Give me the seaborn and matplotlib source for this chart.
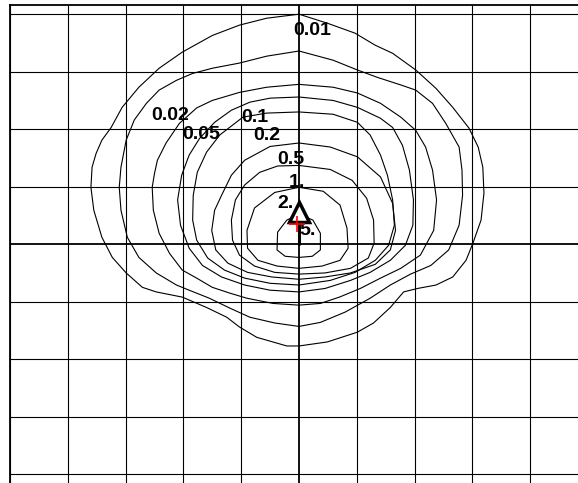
import matplotlib
matplotlib.use("Agg")
import matplotlib.pyplot as plt
import seaborn as sns
import pandas as pd

# concentration isolines around the source, grid units (1 cell = 1 km)
levels = ["0.01", "0.02", "0.05", "0.1", "0.2", "0.5", "1.", "2.", "5."]

c_001 = [(0, 4.0), (0.50, 3.84), (0.97, 3.67), (1.32, 3.46), (1.62, 3.32), (2.02, 3.03),
         (2.37, 2.71), (2.66, 2.38), (2.94, 2.02), (3.10, 1.69), (3.18, 1.34), (3.20, 0.89),
         (3.15, 0.42), (3.01, 0.02), (2.89, -0.28), (2.66, -0.57), (2.37, -0.71), (2.05, -0.77),
         (1.81, -0.83), (1.58, -1.10), (1.29, -1.37), (1.01, -1.53), (0.49, -1.70), (0, -1.77),
         (-0.21, -1.77), (-0.73, -1.62), (-1.03, -1.44), (-1.25, -1.27), (-1.60, -1.10),
         (-2.02, -0.92), (-2.47, -0.83), (-2.71, -0.75), (-2.99, -0.50), (-3.23, -0.23),
         (-3.41, 0.12), (-3.55, 0.59), (-3.60, 0.99), (-3.58, 1.34), (-3.51, 1.58), (-3.41, 1.81),
         (-3.25, 2.03), (-3.06, 2.38), (-2.77, 2.73), (-2.42, 3.06), (-2.02, 3.34), (-1.50, 3.63),
         (-1.03, 3.81), (-0.56, 3.93)]

c_002 = [(0, 3.36), (0.59, 3.20), (1.01, 3.03), (1.36, 2.90), (1.76, 2.77), (2.02, 2.68),
         (2.31, 2.45), (2.54, 2.10), (2.77, 1.69), (2.82, 1.29), (2.83, 0.85), (2.77, 0.33),
         (2.59, -0.10), (2.28, -0.37), (1.93, -0.52), (1.58, -0.71), (1.23, -0.94), (0.80, -1.18),
         (0.37, -1.36), (0, -1.43), (-0.42, -1.37), (-0.85, -1.27), (-1.20, -1.11), (-1.55, -0.94),
         (-1.90, -0.80), (-2.12, -0.71), (-2.47, -0.50), (-2.77, -0.23), (-2.97, 0.12),
         (-3.08, 0.59), (-3.11, 0.99), (-3.08, 1.34), (-2.99, 1.81), (-2.85, 2.16), (-2.64, 2.45),
         (-2.42, 2.68), (-2.12, 2.85), (-1.84, 2.97), (-1.50, 3.06), (-1.03, 3.15), (-0.56, 3.27)]

c_005 = [(0, 2.78), (0.59, 2.73), (1.01, 2.63), (1.41, 2.45), (1.76, 2.21), (2.02, 1.98),
         (2.19, 1.69), (2.31, 1.29), (2.38, 0.77), (2.33, 0.24), (2.10, -0.19), (1.76, -0.42),
         (1.41, -0.59), (1.06, -0.77), (0.70, -0.92), (0.37, -1.03), (0, -1.06), (-0.45, -1.03),
         (-0.90, -0.94), (-1.20, -0.85), (-1.50, -0.75), (-1.77, -0.59), (-2.02, -0.45),
         (-2.24, -0.16), (-2.42, 0.19), (-2.52, 0.59), (-2.54, 0.99), (-2.50, 1.23), (-2.45, 1.46),
         (-2.30, 1.76), (-2.07, 2.10), (-1.77, 2.37), (-1.50, 2.50), (-1.03, 2.64), (-0.56, 2.73)]

c_01 = [(0, 2.56), (0.59, 2.50), (1.01, 2.38), (1.41, 2.19), (1.62, 2.03), (1.79, 1.72),
        (1.91, 1.29), (1.98, 0.77), (1.97, 0.33), (1.84, -0.02), (1.58, -0.28), (1.23, -0.49),
        (0.89, -0.63), (0.45, -0.77), (0, -0.83), (-0.50, -0.80), (-0.94, -0.71), (-1.34, -0.57),
        (-1.67, -0.37), (-1.90, -0.07), (-2.05, 0.33), (-2.10, 0.77), (-2.03, 1.20), (-1.90, 1.55),
        (-1.72, 1.84), (-1.46, 2.12), (-1.17, 2.33), (-0.85, 2.47), (-0.50, 2.54)]

c_02 = [(0, 2.30), (0.59, 2.26), (1.01, 2.12), (1.23, 1.90), (1.41, 1.55), (1.53, 1.20),
        (1.62, 0.77), (1.65, 0.33), (1.55, -0.02), (1.32, -0.28), (0.97, -0.49), (0.54, -0.63),
        (0, -0.71), (-0.50, -0.68), (-0.94, -0.59), (-1.29, -0.45), (-1.58, -0.24), (-1.77, 0.07),
        (-1.84, 0.42), (-1.83, 0.85), (-1.76, 1.25), (-1.60, 1.60), (-1.37, 1.90), (-0.97, 2.21),
        (-0.56, 2.28)]

c_05 = [(0, 1.76), (0.54, 1.69), (1.01, 1.52), (1.41, 1.17), (1.62, 0.71), (1.67, 0.24),
        (1.58, -0.10), (1.32, -0.35), (0.89, -0.50), (0.45, -0.57), (0, -0.61), (-0.47, -0.57),
        (-0.89, -0.49), (-1.23, -0.33), (-1.44, -0.10), (-1.51, 0.24), (-1.46, 0.59),
        (-1.34, 0.85), (-1.17, 1.20), (-0.94, 1.46), (-0.50, 1.70)]

c_1 = [(0, 1.37), (0.54, 1.30), (0.92, 1.11), (1.17, 0.80), (1.29, 0.42), (1.30, 0.02),
       (1.20, -0.24), (0.89, -0.42), (0.45, -0.50), (0, -0.52), (-0.42, -0.49), (-0.77, -0.38),
       (-1.03, -0.19), (-1.15, 0.07), (-1.17, 0.42), (-1.10, 0.77), (-0.94, 1.03), (-0.68, 1.25),
       (-0.37, 1.36)]

c_2 = [(0, 0.99), (0.42, 0.92), (0.71, 0.68), (0.83, 0.28), (0.85, -0.07), (0.71, -0.28),
       (0.40, -0.38), (0, -0.42), (-0.38, -0.38), (-0.71, -0.28), (-0.89, -0.07), (-0.90, 0.24),
       (-0.77, 0.63), (-0.42, 0.90)]

c_5 = [(0, 0.52), (0.24, 0.42), (0.37, 0.19), (0.37, -0.10), (0.23, -0.21), (0, -0.23),
       (-0.24, -0.21), (-0.38, -0.10), (-0.37, 0.21), (-0.21, 0.42)]

contours = [c_001, c_002, c_005, c_01, c_02, c_05, c_1, c_2, c_5]

# label anchor (x centre, y baseline)
label_x = [0.23, -2.23, -1.69, -0.77, -0.55, -0.14, -0.04, -0.23, 0.15]
label_y = [3.63, 2.16, 1.83, 2.12, 1.82, 1.39, 1.00, 0.63, 0.16]

source_xy = (0.0, 0.56)
receptor_xy = (-0.04, 0.36)

grid_x = list(range(-5, 6))
grid_y = list(range(-4, 5))

rows = []
for lev, pts in zip(levels, contours):
    loop = pts + [pts[0]]
    for i, (x, y) in enumerate(loop):
        rows.append({"level": lev, "order": i, "x": x, "y": y})
df = pd.DataFrame(rows)

sns.set_style("white")
plt.rcParams["font.family"] = ["Liberation Sans", "DejaVu Sans"]

fig = plt.figure(figsize=(5.78, 4.83), dpi=100)
ax = fig.add_axes([10 / 578, 0, 588 / 578, 478 / 483])

for xv in grid_x:
    ax.axvline(xv, color="black", lw=1.3 if xv == 0 else 0.8, zorder=1)
for yv in grid_y:
    ax.axhline(yv, color="black", lw=1.3 if yv == 0 else 0.8, zorder=1)

for lev in levels:
    sub = df[df["level"] == lev]
    sns.lineplot(data=sub, x="x", y="y", sort=False, estimator=None,
                 color="black", lw=0.8, ax=ax, zorder=2)

for lev, lx, ly in zip(levels, label_x, label_y):
    ax.text(lx, ly, lev, ha="center", va="baseline", fontsize=14,
            fontweight="bold", color="black", zorder=4)

# source: thick stem + triangle, red cross for the peak
ax.plot([0, 0], [0, source_xy[1]], color="black", lw=2.2, zorder=3)
ax.plot(*source_xy, marker="^", ms=14, mfc="white", mec="black", mew=2.5, zorder=5)
ax.plot(*receptor_xy, marker="+", ms=12, color="red", mew=1.2, zorder=6)

ax.set_xlim(-5.0, -5.0 + 588 / 57.8)
ax.set_ylim(4.16 - 478 / 57.5, 4.16)
ax.set_xticks([])
ax.set_yticks([])
ax.set_xlabel("")
ax.set_ylabel("")
for side in ["right", "bottom"]:
    ax.spines[side].set_visible(False)
for side in ["left", "top"]:
    ax.spines[side].set_color("black")
    ax.spines[side].set_linewidth(1.3)

fig.savefig("out.png", dpi=100)
